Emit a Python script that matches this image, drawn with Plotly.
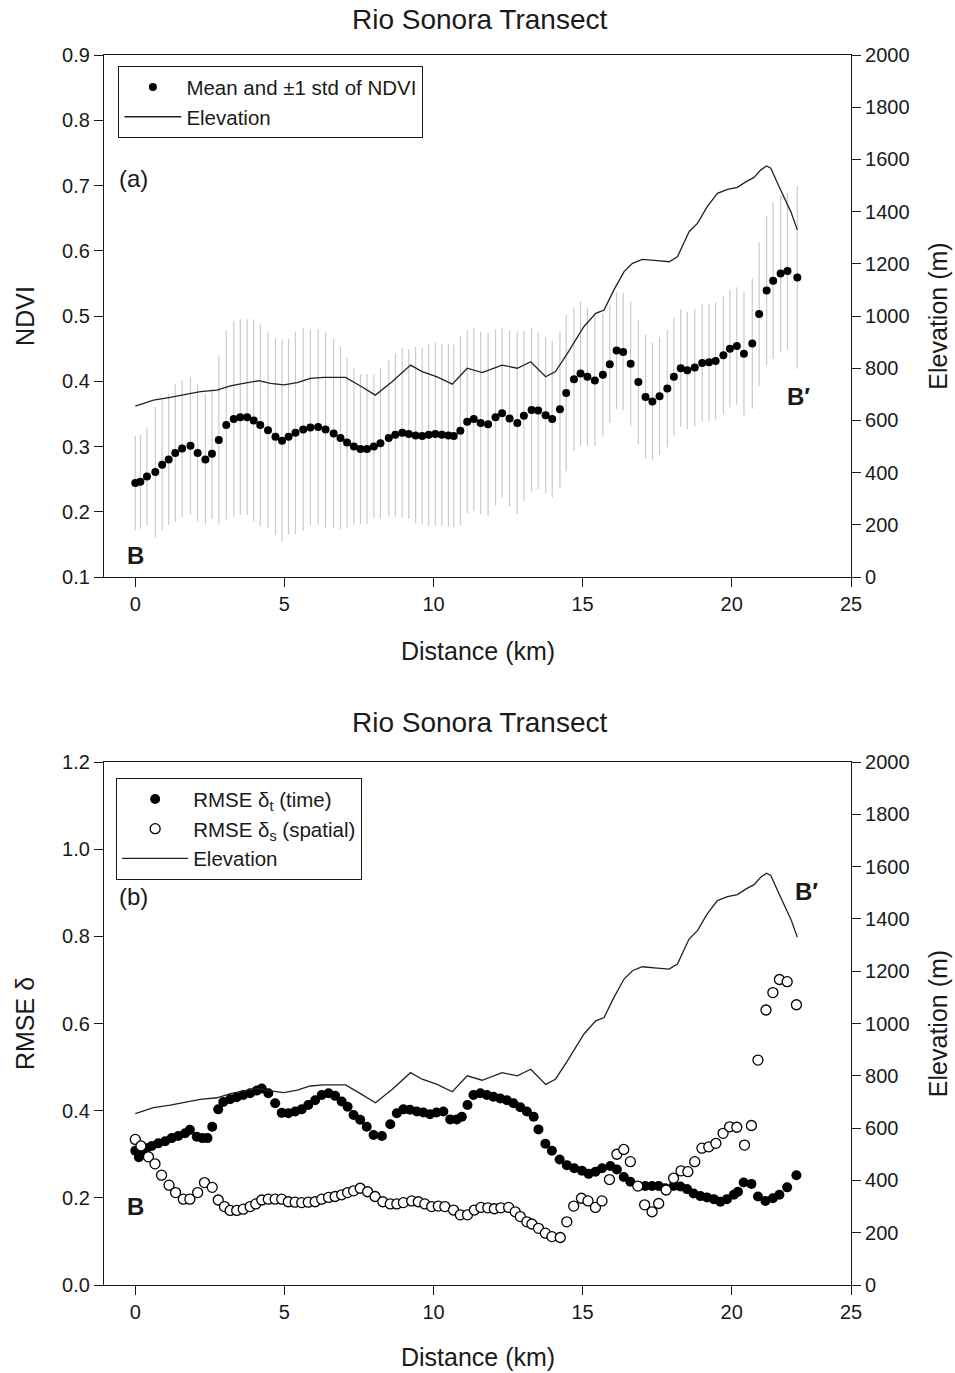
import plotly.graph_objects as go

# ---------------- data ----------------
# Panel (a): NDVI mean and standard deviation along the transect
ndvi_km = [0.0, 0.17, 0.39, 0.67, 0.9, 1.12, 1.34, 1.57, 1.85, 2.09,
           2.35, 2.57, 2.8, 3.05, 3.3, 3.52, 3.75, 3.97, 4.19, 4.45,
           4.7, 4.92, 5.14, 5.37, 5.63, 5.87, 6.13, 6.38, 6.65, 6.88,
           7.1, 7.33, 7.55, 7.77, 8.0, 8.22, 8.5, 8.72, 8.95, 9.17,
           9.4, 9.62, 9.84, 10.06, 10.28, 10.5, 10.68, 10.9, 11.13, 11.35,
           11.58, 11.83, 12.08, 12.3, 12.55, 12.81, 13.03, 13.29, 13.51, 13.76,
           13.98, 14.24, 14.45, 14.71, 14.93, 15.16, 15.41, 15.68, 15.91, 16.14,
           16.36, 16.61, 16.87, 17.11, 17.34, 17.58, 17.84, 18.06, 18.29, 18.51,
           18.76, 19.01, 19.24, 19.46, 19.72, 19.94, 20.17, 20.41, 20.69, 20.92,
           21.17, 21.39, 21.64, 21.87, 22.2]
ndvi_mean = [0.244, 0.246, 0.254, 0.261, 0.272, 0.280, 0.290, 0.297, 0.301, 0.290,
             0.280, 0.289, 0.310, 0.333, 0.342, 0.345, 0.345, 0.340, 0.333, 0.325,
             0.315, 0.309, 0.315, 0.321, 0.326, 0.329, 0.330, 0.326, 0.320, 0.313,
             0.306, 0.300, 0.296, 0.296, 0.300, 0.305, 0.313, 0.318, 0.321, 0.319,
             0.317, 0.316, 0.318, 0.319, 0.318, 0.317, 0.316, 0.324, 0.338, 0.342,
             0.336, 0.334, 0.345, 0.351, 0.343, 0.336, 0.347, 0.356, 0.355, 0.348,
             0.342, 0.357, 0.382, 0.403, 0.412, 0.407, 0.401, 0.410, 0.426, 0.447,
             0.445, 0.427, 0.399, 0.376, 0.369, 0.377, 0.389, 0.407, 0.420, 0.417,
             0.421, 0.428, 0.429, 0.431, 0.440, 0.450, 0.454, 0.442, 0.458, 0.503,
             0.539, 0.554, 0.565, 0.569, 0.559]
ndvi_std = [0.072, 0.072, 0.075, 0.100, 0.100, 0.100, 0.105, 0.105, 0.105, 0.105,
            0.100, 0.100, 0.130, 0.145, 0.150, 0.150, 0.150, 0.155, 0.155, 0.150,
            0.150, 0.155, 0.150, 0.155, 0.155, 0.150, 0.150, 0.150, 0.145, 0.140,
            0.130, 0.120, 0.115, 0.115, 0.110, 0.115, 0.120, 0.125, 0.130, 0.130,
            0.135, 0.135, 0.140, 0.140, 0.140, 0.140, 0.140, 0.145, 0.140, 0.140,
            0.140, 0.140, 0.135, 0.130, 0.135, 0.140, 0.130, 0.125, 0.120, 0.120,
            0.120, 0.120, 0.120, 0.110, 0.110, 0.105, 0.100, 0.095, 0.090, 0.090,
            0.090, 0.095, 0.095, 0.095, 0.090, 0.090, 0.090, 0.090, 0.090, 0.090,
            0.090, 0.090, 0.090, 0.090, 0.090, 0.090, 0.090, 0.095, 0.100, 0.110,
            0.115, 0.120, 0.120, 0.120, 0.140]

# Elevation profile (m) along the transect
elev_km = [0.0, 0.61, 1.17, 1.73, 2.18, 2.74, 3.19, 3.63, 4.14, 4.53,
           4.98, 5.43, 5.87, 6.32, 7.05, 7.55, 8.05, 8.61, 9.23, 9.62,
           10.12, 10.63, 11.13, 11.63, 12.3, 12.81, 13.26, 13.76, 14.09, 14.49,
           14.88, 15.04, 15.44, 15.72, 16.05, 16.39, 16.67, 17.0, 17.5, 17.9,
           18.18, 18.57, 18.85, 19.18, 19.52, 19.86, 20.19, 20.47, 20.75, 20.97,
           21.17, 21.31, 21.64, 21.98, 22.2]
elev_m = [655, 678, 688, 701, 710, 716, 732, 742, 752, 742,
          736, 745, 761, 765, 765, 732, 697, 748, 812, 787,
          767, 739, 800, 783, 812, 800, 825, 767, 787, 857,
          930, 959, 1010, 1023, 1100, 1170, 1202, 1217, 1212, 1208,
          1227, 1323, 1355, 1419, 1470, 1485, 1493, 1514, 1531, 1559,
          1575, 1566, 1483, 1400, 1330]

# Panel (b): RMSE in time
rmse_t_km = [0.0, 0.12, 0.24, 0.38, 0.55, 0.77, 1.0, 1.22, 1.44, 1.67,
             1.83, 2.06, 2.25, 2.42, 2.58, 2.78, 2.95, 3.18, 3.4, 3.62,
             3.85, 4.07, 4.24, 4.46, 4.69, 4.91, 5.13, 5.36, 5.58, 5.8,
             6.03, 6.25, 6.48, 6.7, 6.92, 7.12, 7.32, 7.54, 7.76, 7.99,
             8.27, 8.55, 8.77, 8.99, 9.21, 9.44, 9.66, 9.88, 10.1, 10.33,
             10.56, 10.78, 10.95, 11.14, 11.34, 11.57, 11.79, 12.01, 12.24, 12.46,
             12.68, 12.91, 13.13, 13.36, 13.52, 13.75, 13.97, 14.23, 14.47, 14.72,
             14.98, 15.2, 15.43, 15.65, 15.93, 16.15, 16.38, 16.6, 16.88, 17.1,
             17.33, 17.55, 17.77, 18.05, 18.28, 18.5, 18.72, 18.95, 19.17, 19.4,
             19.62, 19.84, 20.07, 20.21, 20.4, 20.66, 20.88, 21.13, 21.38, 21.6,
             21.86, 22.17]
rmse_t = [0.308, 0.293, 0.302, 0.314, 0.319, 0.325, 0.330, 0.337, 0.342, 0.348,
          0.356, 0.340, 0.337, 0.337, 0.363, 0.403, 0.420, 0.426, 0.431, 0.436,
          0.440, 0.446, 0.451, 0.440, 0.417, 0.395, 0.394, 0.398, 0.403, 0.413,
          0.424, 0.436, 0.440, 0.434, 0.421, 0.409, 0.390, 0.379, 0.363, 0.344,
          0.342, 0.369, 0.394, 0.403, 0.402, 0.398, 0.396, 0.392, 0.396, 0.398,
          0.380, 0.380, 0.386, 0.413, 0.436, 0.440, 0.436, 0.432, 0.428, 0.424,
          0.417, 0.408, 0.398, 0.386, 0.357, 0.324, 0.308, 0.288, 0.275, 0.268,
          0.262, 0.255, 0.260, 0.268, 0.273, 0.265, 0.248, 0.237, 0.227, 0.227,
          0.227, 0.227, 0.222, 0.227, 0.226, 0.220, 0.210, 0.204, 0.201, 0.197,
          0.191, 0.197, 0.207, 0.214, 0.235, 0.232, 0.203, 0.193, 0.199, 0.207,
          0.224, 0.252]

# Panel (b): RMSE in space
rmse_s_km = [0.0, 0.19, 0.44, 0.66, 0.88, 1.13, 1.35, 1.61, 1.83, 2.09,
             2.32, 2.58, 2.78, 2.99, 3.18, 3.4, 3.62, 3.85, 4.04, 4.24,
             4.46, 4.69, 4.91, 5.13, 5.36, 5.58, 5.8, 6.03, 6.25, 6.48,
             6.7, 6.92, 7.12, 7.32, 7.54, 7.79, 8.04, 8.3, 8.55, 8.77,
             8.99, 9.27, 9.49, 9.71, 9.94, 10.16, 10.38, 10.67, 10.9, 11.14,
             11.37, 11.59, 11.82, 12.04, 12.26, 12.52, 12.74, 12.91, 13.13, 13.3,
             13.52, 13.75, 13.97, 14.25, 14.47, 14.7, 14.96, 15.18, 15.43, 15.65,
             15.9, 16.15, 16.38, 16.6, 16.85, 17.08, 17.33, 17.55, 17.8, 18.05,
             18.3, 18.53, 18.76, 19.0, 19.23, 19.47, 19.71, 19.93, 20.17, 20.43,
             20.66, 20.88, 21.15, 21.38, 21.6, 21.86, 22.17]
rmse_s = [0.334, 0.319, 0.294, 0.278, 0.252, 0.229, 0.212, 0.197, 0.197, 0.212,
          0.235, 0.224, 0.195, 0.180, 0.171, 0.171, 0.174, 0.180, 0.186, 0.195,
          0.197, 0.197, 0.197, 0.191, 0.190, 0.189, 0.190, 0.191, 0.197, 0.201,
          0.203, 0.207, 0.212, 0.216, 0.222, 0.214, 0.203, 0.191, 0.186, 0.186,
          0.189, 0.193, 0.191, 0.186, 0.180, 0.181, 0.180, 0.172, 0.161, 0.161,
          0.172, 0.178, 0.177, 0.175, 0.177, 0.178, 0.168, 0.157, 0.145, 0.140,
          0.130, 0.119, 0.111, 0.109, 0.145, 0.181, 0.199, 0.193, 0.178, 0.193,
          0.242, 0.300, 0.311, 0.283, 0.227, 0.184, 0.168, 0.187, 0.218, 0.245,
          0.262, 0.260, 0.283, 0.314, 0.317, 0.325, 0.348, 0.363, 0.362, 0.321,
          0.366, 0.516, 0.631, 0.671, 0.701, 0.696, 0.643]

x_tickvals = [0, 5, 10, 15, 20, 24]
x_ticktext = ["0", "5", "10", "15", "20", "25"]

# ---------------- styling ----------------
FONT = "Arial, Liberation Sans, sans-serif"
INK = "#1a1a1a"
TICK_FONT = dict(family=FONT, size=20, color=INK)
TITLE_FONT = dict(family=FONT, size=25, color=INK)
LEGEND_FONT = dict(family=FONT, size=20.5, color=INK)

fig = go.Figure()

# ---- panel (a) ----
fig.add_trace(go.Scatter(
    x=ndvi_km, y=ndvi_mean, mode="markers", name="Mean and \u00b11 std of NDVI",
    marker=dict(color="black", size=8),
    error_y=dict(type="data", array=ndvi_std, visible=True, color="#cacaca",
                 thickness=1.2, width=0),
    xaxis="x", yaxis="y", legend="legend"))
fig.add_trace(go.Scatter(
    x=elev_km, y=elev_m, mode="lines", name="Elevation",
    line=dict(color="#222222", width=1.3),
    xaxis="x", yaxis="y2", legend="legend"))

# ---- panel (b) ----
fig.add_trace(go.Scatter(
    x=rmse_t_km, y=rmse_t, mode="markers", name="RMSE \u03b4<sub>t</sub> (time)",
    marker=dict(color="black", size=10),
    xaxis="x2", yaxis="y3", legend="legend2"))
fig.add_trace(go.Scatter(
    x=rmse_s_km, y=rmse_s, mode="markers", name="RMSE \u03b4<sub>s</sub> (spatial)",
    marker=dict(color="white", size=10, line=dict(color="black", width=1.3)),
    xaxis="x2", yaxis="y3", legend="legend2"))
fig.add_trace(go.Scatter(
    x=elev_km, y=elev_m, mode="lines", name="Elevation",
    line=dict(color="#222222", width=1.3),
    xaxis="x2", yaxis="y4", legend="legend2"))

top_dom = [0.5756, 1.0]
bot_dom = [0.0, 0.4252]

xcommon = dict(range=[-1.05, 24], tickvals=x_tickvals, ticktext=x_ticktext,
               showline=True, linecolor=INK, linewidth=1.2, mirror=True,
               ticks="outside", ticklen=9, tickcolor=INK, tickwidth=1.2,
               showgrid=False, zeroline=False, tickfont=TICK_FONT,
               automargin=False)
ycommon = dict(showline=True, linecolor=INK, linewidth=1.2,
               ticks="outside", ticklen=9, tickcolor=INK, tickwidth=1.2,
               showgrid=False, zeroline=False, tickfont=TICK_FONT,
               automargin=False)

fig.update_layout(
    width=955, height=1373,
    margin=dict(l=104, r=104, t=55, b=88, autoexpand=False),
    paper_bgcolor="white", plot_bgcolor="white",
    font=dict(family=FONT, color=INK),
    xaxis=dict(domain=[0, 1], anchor="y", **xcommon),
    yaxis=dict(domain=top_dom, anchor="x", range=[0.1, 0.9], dtick=0.1,
               tickformat=".1f",
               title=dict(text="NDVI", font=TITLE_FONT, standoff=20), **ycommon),
    yaxis2=dict(overlaying="y", side="right", anchor="x", range=[0, 2000],
                dtick=200, title=dict(text="Elevation (m)", font=TITLE_FONT,
                                      standoff=20), **ycommon),
    xaxis2=dict(domain=[0, 1], anchor="y3", **xcommon),
    yaxis3=dict(domain=bot_dom, anchor="x2", range=[0, 1.2], dtick=0.2,
                tickformat=".1f",
                title=dict(text="RMSE \u03b4", font=TITLE_FONT, standoff=20),
                **ycommon),
    yaxis4=dict(overlaying="y3", side="right", anchor="x2", range=[0, 2000],
                dtick=200, title=dict(text="Elevation (m)", font=TITLE_FONT,
                                      standoff=20), **ycommon),
    legend=dict(x=0.019, y=0.991, xanchor="left", yanchor="top",
                bgcolor="white", bordercolor=INK, borderwidth=1.2,
                font=LEGEND_FONT, itemwidth=57, tracegroupgap=0),
    legend2=dict(x=0.016, y=0.4122, xanchor="left", yanchor="top",
                 bgcolor="white", bordercolor=INK, borderwidth=1.2,
                 font=LEGEND_FONT, itemwidth=66, tracegroupgap=0),
    showlegend=True,
)

# Panel titles, axis titles and labels
TEXT_FONT = dict(family=FONT, size=24, color=INK)
annos = [
    dict(text="Rio Sonora Transect", x=0.503, y=1.0285, xref="paper", yref="paper",
         font=dict(family=FONT, size=28, color=INK)),
    dict(text="Rio Sonora Transect", x=0.503, y=0.4577, xref="paper", yref="paper",
         font=dict(family=FONT, size=28, color=INK)),
    dict(text="Distance (km)", x=0.5007, y=0.5154, xref="paper", yref="paper",
         font=TITLE_FONT),
    dict(text="Distance (km)", x=0.5007, y=-0.0585, xref="paper", yref="paper",
         font=TITLE_FONT),
    dict(text="(a)", x=0.039, y=0.764, xref="x domain", yref="y domain",
         font=TEXT_FONT),
    dict(text="<b>B</b>", x=0.0415, y=0.042, xref="x domain", yref="y domain",
         font=TEXT_FONT),
    dict(text="<b>B\u2032</b>", x=0.93, y=0.345, xref="x domain", yref="y domain",
         font=TEXT_FONT),
    dict(text="(b)", x=0.039, y=0.742, xref="x2 domain", yref="y3 domain",
         font=TEXT_FONT),
    dict(text="<b>B</b>", x=0.0415, y=0.151, xref="x2 domain", yref="y3 domain",
         font=TEXT_FONT),
    dict(text="<b>B\u2032</b>", x=0.94, y=0.752, xref="x2 domain", yref="y3 domain",
         font=TEXT_FONT),
]
for a in annos:
    a.update(showarrow=False, xanchor="center", yanchor="middle")
fig.update_layout(annotations=annos)

fig.write_html("out.html")
